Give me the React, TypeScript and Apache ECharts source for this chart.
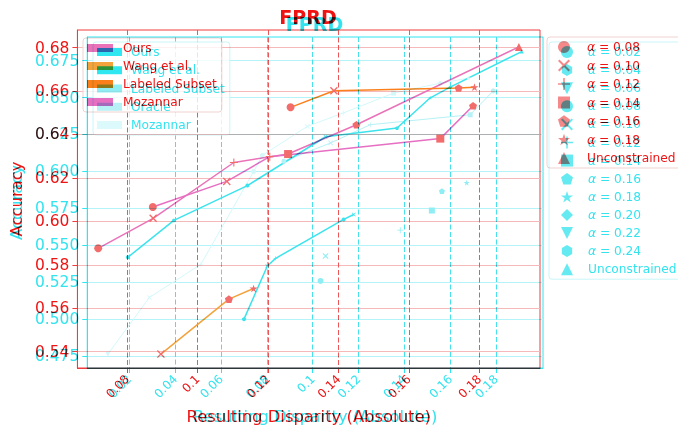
import React, { useEffect, useRef } from 'react';
import * as echarts from 'echarts';

// ---------- marker shapes ----------
const SYMBOLS: Record<string, string> = {
  o: 'circle',
  x: 'path://M0,1.2L1.2,0L5,3.8L8.8,0L10,1.2L6.2,5L10,8.8L8.8,10L5,6.2L1.2,10L0,8.8L3.8,5Z',
  '+': 'path://M4.35,0H5.65V4.35H10V5.65H5.65V10H4.35V5.65H0V4.35H4.35Z',
  s: 'rect',
  p: 'path://M5,0L10,3.6L8.1,9.5L1.9,9.5L0,3.6Z',
  '*': 'path://M5,0L6.2,3.6L10,3.6L6.9,5.9L8.1,9.5L5,7.3L1.9,9.5L3.1,5.9L0,3.6L3.8,3.6Z',
  D: 'diamond',
  v: 'path://M0,0L10,0L5,10Z',
  h: 'path://M5,0L9.3,2.5L9.3,7.5L5,10L0.7,7.5L0.7,2.5Z',
  '.': 'path://M5,2.5A2.5,2.5,0,1,1,4.99,2.5Z',
  '^': 'triangle',
};

// ---------- run A (red) ----------
const A_X_TICKS = [0.08, 0.1, 0.12, 0.14, 0.16, 0.18];
const A_X_LABELS = ['0.08', '0.1', '0.12', '0.14', '0.16', '0.18'];
const A_Y_TICKS = [0.54, 0.56, 0.58, 0.6, 0.62, 0.64, 0.66, 0.68];
const A_Y_LABELS = ['0.54', '0.56', '0.58', '0.60', '0.62', '0.64', '0.66', '0.68'];

const A_ALPHA_NAMES = ['α = 0.08', 'α = 0.10', 'α = 0.12', 'α = 0.14', 'α = 0.16', 'α = 0.18', 'Unconstrained'];
const A_ALPHA_MARKS = ['o', 'x', '+', 's', 'p', '*', '^'];

const aOursX = [0.0718, 0.0874, 0.1103, 0.1257, 0.1451, 0.1912];
const aOursY = [0.5876, 0.6014, 0.6271, 0.631, 0.6445, 0.6803];
const aOursM = ['o', 'x', '+', 's', 'p', '^'];

const aMozX = [0.0873, 0.1083, 0.1205, 0.1689, 0.1782];
const aMozY = [0.6066, 0.6184, 0.6298, 0.6381, 0.6532];
const aMozM = ['o', 'x', '+', 's', 'p'];

const aWangX = [0.0896, 0.1089, 0.1159];
const aWangY = [0.5389, 0.5642, 0.5691];
const aWangM = ['x', 'p', '*'];

const aLabX = [0.1264, 0.1387, 0.1741, 0.1786];
const aLabY = [0.6525, 0.6601, 0.6614, 0.6618];
const aLabM = ['o', 'x', 'p', '*'];

// ---------- run B (cyan) ----------
const B_X_TICKS = [0.02, 0.04, 0.06, 0.08, 0.1, 0.12, 0.14, 0.16, 0.18];
const B_X_LABELS = ['0.02', '0.04', '0.06', '0.08', '0.1', '0.12', '0.14', '0.16', '0.18'];
const B_Y_TICKS = [0.475, 0.5, 0.525, 0.55, 0.575, 0.6, 0.625, 0.65, 0.675];
const B_Y_LABELS = ['0.475', '0.500', '0.525', '0.550', '0.575', '0.600', '0.625', '0.650', '0.675'];

const B_ALPHA_NAMES = ['α = 0.02', 'α = 0.04', 'α = 0.06', 'α = 0.08', 'α = 0.10', 'α = 0.12', 'α = 0.14',
  'α = 0.16', 'α = 0.18', 'α = 0.20', 'α = 0.22', 'α = 0.24', 'Unconstrained'];
const B_ALPHA_MARKS = ['.', 'h', 'v', 'o', 'x', '+', 's', 'p', '*', 'D', 'v', 'h', '^'];

const bOursX = [0.0193, 0.0394, 0.0715, 0.1056, 0.1368, 0.1513, 0.16, 0.1912];
const bOursY = [0.5417, 0.5667, 0.5903, 0.6234, 0.6293, 0.6498, 0.657, 0.6811];
const bOursM = ['.', 'h', 'o', 'x', 'p', '*', 'D', '^'];

const bWangX = [0.07, 0.0802, 0.0838, 0.1135, 0.1179];
const bWangY = [0.4998, 0.5358, 0.541, 0.5674, 0.5707];
const bWangM = ['.', 'x', '+', 'o', 'x'];

const bLabX = [0.1034, 0.1056, 0.1382, 0.152, 0.1564, 0.1672];
const bLabY = [0.5257, 0.5426, 0.5601, 0.5734, 0.5865, 0.5922];
const bLabM = ['o', 'x', '+', 's', 'p', '*'];

const bOracleX = [0.0874, 0.1078, 0.1252, 0.1687, 0.1788];
const bOracleY = [0.6068, 0.6192, 0.6316, 0.6383, 0.6545];
const bOracleM = ['o', 'x', '+', 's', 'o'];

const bMozX = [0.0106, 0.0287, 0.0512, 0.0742, 0.078, 0.0976, 0.1133, 0.1353, 0.1556, 0.1679];
const bMozY = [0.4761, 0.5145, 0.537, 0.5998, 0.6108, 0.6304, 0.6395, 0.653, 0.6597, 0.6631];
const bMozM = ['v', 'x', '+', '.', 'o', 'x', '+', 's', 'p', '*'];

const FONT = 'DejaVu Sans';
const LEGEND_FS = 12.2;

type Palette = {
  text: string; spine: string; hgrid: string; vgrid: string; legendBorder: string; marker: string;
};

const RED: Palette = {
  text: '#ee1414', spine: '#f03c3c', hgrid: '#f6b9b9', vgrid: '#ec5656', legendBorder: '#f1d2d2', marker: '#f26c6c',
};
const CYAN: Palette = {
  text: '#33e3ee', spine: '#2ee6f0', hgrid: '#b4f3f7', vgrid: '#46e2eb', legendBorder: '#c9f5f8', marker: '#5fe5ee',
};

function tickLabel(ticks: number[], labels: string[]) {
  return (v: number) => {
    const i = ticks.findIndex((t) => Math.abs(t - v) < 1e-7);
    return i >= 0 ? labels[i] : '';
  };
}

function lineSeries(name: string, xs: number[], ys: number[], ms: string[], lineColor: string,
  markColor: string, size: number, width: number, showLine = true) {
  return {
    type: 'line',
    name,
    data: xs.map((x, i) => ({ value: [x, ys[i]], symbol: SYMBOLS[ms[i]] })),
    symbolSize: size,
    symbolKeepAspect: true,
    showSymbol: true,
    showAllSymbol: true,
    lineStyle: { color: lineColor, width, opacity: showLine ? 1 : 0 },
    itemStyle: { color: markColor },
    emphasis: { disabled: true },
    silent: true,
    z: 3,
  };
}

function legendKeySeries(names: string[], marks: string[], color: string) {
  return names.map((n, i) => ({
    type: 'scatter', name: n, data: [], symbol: SYMBOLS[marks[i]], itemStyle: { color },
  }));
}

function alphaFormatter(name: string) {
  return name.startsWith('α') ? `{a|α}{b|${name.slice(1)}}` : name;
}

function axes(p: Palette, xr: [number, number], yr: [number, number], xt: number[], xl: string[],
  yt: number[], yl: string[], yNameGap: number) {
  const nameStyle = { color: p.text, fontSize: 16.4, fontFamily: FONT };
  return {
    xAxis: {
      type: 'value', min: xr[0], max: xr[1],
      axisLine: { show: true, lineStyle: { color: p.spine, width: 1 } },
      axisTick: { show: true, customValues: xt, length: 5, lineStyle: { color: p.spine } },
      axisLabel: { customValues: xt, formatter: tickLabel(xt, xl), rotate: 45, color: p.text, fontSize: 12, fontFamily: FONT, margin: 9 },
      splitLine: { show: true, lineStyle: { color: p.vgrid, type: [5, 2.5], width: 1 } },
      name: 'Resulting Disparity (Absolute)', nameLocation: 'middle', nameGap: 40, nameTextStyle: nameStyle,
    },
    yAxis: {
      type: 'value', min: yr[0], max: yr[1],
      axisLine: { show: true, lineStyle: { color: p.spine, width: 1 } },
      axisTick: { show: true, customValues: yt, length: 5, lineStyle: { color: p.spine } },
      axisLabel: { customValues: yt, formatter: tickLabel(yt, yl), color: p.text, fontSize: 15.5, fontFamily: FONT, margin: 8 },
      splitLine: { show: true, lineStyle: { color: p.hgrid, width: 1 } },
      name: 'Accuracy', nameLocation: 'middle', nameGap: yNameGap, nameRotate: 90, nameTextStyle: nameStyle,
    },
  };
}

function legendBox(p: Palette, left: number, top: number, pad: number[], itemGap: number, iw: number, ih: number, textPad: number) {
  return {
    orient: 'vertical', left, top, padding: pad, itemGap, itemWidth: iw, itemHeight: ih,
    backgroundColor: 'rgba(255,255,255,0.8)', borderColor: p.legendBorder, borderWidth: 1, borderRadius: 3,
    selectedMode: false,
    textStyle: {
      color: p.text, fontSize: LEGEND_FS, fontFamily: FONT, lineHeight: 14, padding: [0, 0, 0, textPad],
      rich: {
        a: { color: p.text, fontSize: LEGEND_FS, fontFamily: FONT, fontStyle: 'italic', lineHeight: 14 },
        b: { color: p.text, fontSize: LEGEND_FS, fontFamily: FONT, lineHeight: 14 },
      },
    },
  };
}

function optionA() {
  const p = RED;
  const PINK = '#ea72b8';
  const PINK2 = '#e66fc2';
  const ORANGE_L = '#f3a23c';
  const ORANGE = '#fb801c';
  return {
    animation: false,
    title: {
      text: 'FPRD', left: 303, top: 2, textAlign: 'center',
      textStyle: { color: p.text, fontSize: 19, fontWeight: 'bold', fontFamily: FONT },
    },
    grid: { left: 76, top: 30, right: 138, bottom: 60, show: true, borderColor: p.spine, borderWidth: 1, backgroundColor: 'transparent' },
    ...axes(p, [0.0659, 0.1972], [0.5325, 0.6881], A_X_TICKS, A_X_LABELS, A_Y_TICKS, A_Y_LABELS, 47),
    legend: [
      {
        ...legendBox(p, 83, 38, [3, 5, 3, 4], 4, 26, 8, 5),
        data: [
          { name: 'Ours', icon: 'rect', itemStyle: { color: PINK } },
          { name: 'Wang et al.', icon: 'rect', itemStyle: { color: ORANGE_L } },
          { name: 'Labeled Subset', icon: 'rect', itemStyle: { color: ORANGE } },
          { name: 'Mozannar', icon: 'rect', itemStyle: { color: PINK2 } },
        ],
      },
      {
        ...legendBox(p, 547, 37, [3, 8, 3, 11], 4.5, 12, 12, 12),
        formatter: alphaFormatter,
        data: A_ALPHA_NAMES.map((n, i) => ({ name: n, icon: SYMBOLS[A_ALPHA_MARKS[i]] })),
      },
    ],
    series: [
      lineSeries('Ours', aOursX, aOursY, aOursM, PINK, p.marker, 8, 1.5),
      lineSeries('Wang et al.', aWangX, aWangY, aWangM, ORANGE_L, p.marker, 8, 1.5),
      lineSeries('Labeled Subset', aLabX, aLabY, aLabM, ORANGE, p.marker, 8, 1.5),
      lineSeries('Mozannar', aMozX, aMozY, aMozM, PINK2, p.marker, 8, 1.5),
      ...legendKeySeries(A_ALPHA_NAMES, A_ALPHA_MARKS, p.marker),
    ],
  };
}

function optionB() {
  const p = CYAN;
  const LINE = '#3ce3ec';
  const LAB = '#8eeef4';
  const ORACLE = '#b6f1f6';
  const MOZ = '#d4f8fa';
  return {
    animation: false,
    title: {
      text: 'FPRD', left: 309.5, top: 9, textAlign: 'center',
      textStyle: { color: p.text, fontSize: 19, fontWeight: 'bold', fontFamily: FONT },
    },
    grid: { left: 86, top: 37, right: 135, bottom: 60, show: true, borderColor: p.spine, borderWidth: 1, backgroundColor: 'transparent' },
    ...axes(p, [0.0016, 0.2005], [0.4667, 0.691], B_X_TICKS, B_X_LABELS, B_Y_TICKS, B_Y_LABELS, 54),
    legend: [
      {
        ...legendBox(p, 93, 42, [3, 5, 3, 4], 4.25, 25, 8, 4),
        data: [
          { name: 'Ours', icon: 'rect', itemStyle: { color: '#2fe7f0' } },
          { name: 'Wang et al.', icon: 'rect', itemStyle: { color: '#2fe7f0' } },
          { name: 'Labeled Subset', icon: 'rect', itemStyle: { color: LAB } },
          { name: 'Oracle', icon: 'rect', itemStyle: { color: ORACLE } },
          { name: 'Mozannar', icon: 'rect', itemStyle: { color: '#dcf9fb' } },
        ],
      },
      {
        ...legendBox(p, 549, 42, [3, 8, 3, 12], 4.1, 12, 12, 10),
        formatter: alphaFormatter,
        data: B_ALPHA_NAMES.map((n, i) => ({ name: n, icon: SYMBOLS[B_ALPHA_MARKS[i]] })),
      },
    ],
    series: [
      lineSeries('Mozannar', bMozX, bMozY, bMozM, MOZ, MOZ, 5, 1),
      lineSeries('Oracle', bOracleX, bOracleY, bOracleM, ORACLE, ORACLE, 5, 1),
      lineSeries('Labeled Subset', bLabX, bLabY, bLabM, LAB, LAB, 6, 1, false),
      lineSeries('Wang et al.', bWangX, bWangY, bWangM, LINE, LINE, 4, 1.5),
      lineSeries('Ours', bOursX, bOursY, bOursM, LINE, LINE, 4, 1.5),
      ...legendKeySeries(B_ALPHA_NAMES, B_ALPHA_MARKS, '#3fe5ee'),
    ],
  };
}

export default function App() {
  const refA = useRef<HTMLDivElement>(null);
  const refB = useRef<HTMLDivElement>(null);

  useEffect(() => {
    const chartB = echarts.init(refB.current!, undefined, { renderer: 'svg' });
    chartB.setOption(optionB() as any);
    const chartA = echarts.init(refA.current!, undefined, { renderer: 'svg' });
    chartA.setOption(optionA() as any);
    return () => {
      chartA.dispose();
      chartB.dispose();
    };
  }, []);

  return (
    <div style={{ position: 'fixed', left: 0, top: 0, width: 678, height: 429, background: '#fff', overflow: 'hidden' }}>
      <div ref={refB} style={{ position: 'absolute', left: 0, top: 0, width: 678, height: 429 }} />
      <div ref={refA} style={{ position: 'absolute', left: 0, top: 0, width: 678, height: 429, mixBlendMode: 'multiply' }} />
    </div>
  );
}
